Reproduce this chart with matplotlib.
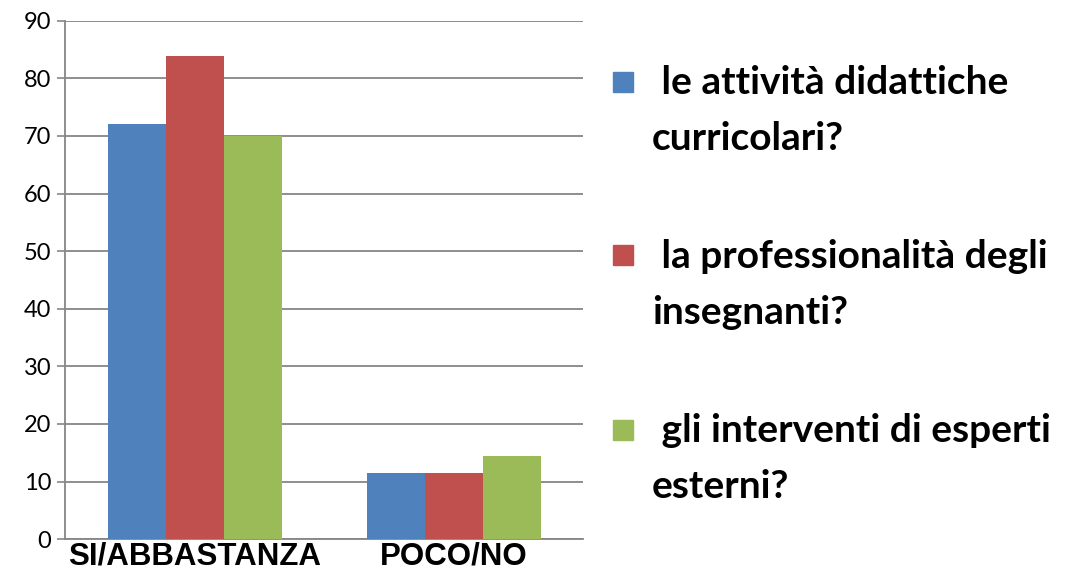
import matplotlib
matplotlib.use("Agg")
import matplotlib.pyplot as plt
import numpy as np
from matplotlib.patches import Rectangle

categories = ["SI/ABBASTANZA", "POCO/NO"]
series_names = [" le attività didattiche\ncurricolari?",
                " la professionalità degli\ninsegnanti?",
                " gli interventi di esperti\nesterni?"]
attivita = [72, 11.5]
professionalita = [83.8, 11.5]
esperti = [70, 14.5]
yticks = [0, 10, 20, 30, 40, 50, 60, 70, 80, 90]
colors = ["#4F81BD", "#C0504D", "#9BBB59"]

fig = plt.figure(figsize=(10.66, 5.76), dpi=100)
ax = fig.add_axes([0.061, 0.064, 0.486, 0.9])

x = np.arange(len(categories))
w = 0.224
for i, (vals, c) in enumerate(zip([attivita, professionalita, esperti], colors)):
    ax.bar(x + (i - 1) * w, vals, width=w, color=c, zorder=3, linewidth=0)

ax.set_xlim(-0.5, 1.5)
ax.set_ylim(0, 90)
ax.set_yticks(yticks)
ax.set_xticks(x)
ax.set_xticklabels(categories, fontfamily="Liberation Sans", fontweight="bold", fontsize=22.5)
ax.tick_params(axis="x", length=0, pad=2)
ax.tick_params(axis="y", length=6, color="#868686", width=1.2, labelsize=17, pad=4)
for lab in ax.get_yticklabels():
    lab.set_fontfamily("Lato")
ax.grid(axis="y", color="#868686", linewidth=1.3, zorder=0)
for s in ["top", "right"]:
    ax.spines[s].set_visible(False)
ax.spines["left"].set_color("#868686")
ax.spines["left"].set_linewidth(1.3)
ax.spines["bottom"].set_color("#868686")
ax.spines["bottom"].set_linewidth(1.3)

W, H = 1066, 576
sq_y = [82, 255, 430]
for name, c, yc in zip(series_names, colors, sq_y):
    fig.patches.append(Rectangle(((613) / W, 1 - (yc + 10) / H), 20 / W, 20 / H,
                                 transform=fig.transFigure, color=c))
    l1, l2 = name.split("\n")
    fig.text(652 / W, 1 - (yc + 1) / H, l1, fontfamily="Lato", fontweight="bold",
             fontsize=28, va="center", ha="left")
    fig.text(652 / W, 1 - (yc + 57) / H, l2, fontfamily="Lato", fontweight="bold",
             fontsize=28, va="center", ha="left")

fig.savefig("out.png", dpi=100)
